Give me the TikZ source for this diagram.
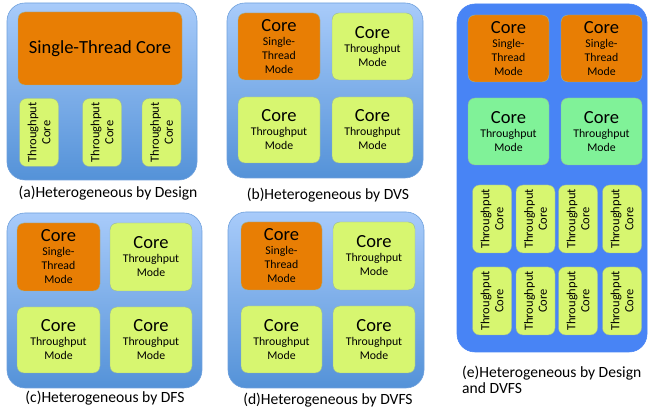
\documentclass[tikz,border=0pt]{standalone}
\usepackage{fontspec}
\setmainfont{Carlito}
\usetikzlibrary{positioning}

\definecolor{chiptop}{RGB}{168,203,250}
\definecolor{chipbot}{RGB}{84,146,216}
\definecolor{chipline}{RGB}{110,160,220}
\definecolor{bigchip}{RGB}{72,132,245}
\definecolor{stcolor}{RGB}{232,126,4}
\definecolor{tpcolor}{RGB}{215,246,112}
\definecolor{modecolor}{RGB}{128,242,152}
\definecolor{coreline}{RGB}{150,180,160}

\begin{document}
\begin{tikzpicture}[
            x=1pt, y=-1pt,
            chip/.style={draw=chipline, line width=0.6pt, rounded corners=18pt,
                top color=chiptop, bottom color=chipbot, inner sep=0pt, outer sep=0pt},
            core/.style={draw=coreline, line width=0.4pt, rounded corners=7pt,
                inner sep=0pt, outer sep=0pt, align=center, font=\smallword},
            stcore/.style={core, fill=stcolor},
            tpcore/.style={core, fill=tpcolor},
            tpmode/.style={core, fill=modecolor},
            vcore/.style={tpcore, rotate=90, font=\vword, minimum width=68pt, minimum height=39pt},
            caption/.style={font=\capword, inner sep=0pt}
        ]
        \def\bigword{\fontsize{18.5}{19}\selectfont}
        \def\smallword{\fontsize{11.8}{14}\selectfont}
        \def\vword{\fontsize{12.5}{14}\selectfont}
        \def\capword{\fontsize{15.6}{16}\selectfont}
        \def\stmode{{\bigword Core}\\Single-\\Thread\\Mode}
        \def\tpmodetext{{\bigword Core}\\Throughput\\Mode}
        \def\vtext{Throughput\\Core}
        \useasboundingbox (0, 0) rectangle (649, 411);

        % (a) heterogeneous by design
        \node[chip, minimum width=190pt, minimum height=177pt] (chipA) at (102, 91.5) {};
        \node[stcore, minimum width=164pt, minimum height=73pt] (stA) at (100, 48.5)
            {\fontsize{18.5}{20}\selectfont Single-Thread Core};
        \node[vcore] (tpA1) at (39, 132.5) {\vtext};
        \node[vcore] (tpA2) at (102, 132.5) {\vtext};
        \node[vcore] (tpA3) at (161.5, 132.5) {\vtext};
        \node[caption] (capA) at (108, 193) {(a)Heterogeneous by Design};

        % (b) heterogeneous by DVS
        \node[chip, minimum width=196pt, minimum height=175pt] (chipB) at (325, 90.5) {};
        \node[stcore, minimum width=82pt, minimum height=67pt] (coreB1) at (279, 46.5) {\stmode};
        \node[tpcore, minimum width=81pt, minimum height=67pt] (coreB2) at (372.5, 46.5) {\tpmodetext};
        \node[tpcore, minimum width=82pt, minimum height=66pt] (coreB3) at (279, 130) {\tpmodetext};
        \node[tpcore, minimum width=81pt, minimum height=66pt] (coreB4) at (372.5, 130) {\tpmodetext};
        \node[caption] (capB) at (328, 195) {(b)Heterogeneous by DVS};

        % (c) heterogeneous by DFS
        \node[chip, minimum width=195pt, minimum height=175pt] (chipC) at (104.5, 300.5) {};
        \node[stcore, minimum width=83pt, minimum height=68pt] (coreC1) at (58.5, 257) {\stmode};
        \node[tpcore, minimum width=82pt, minimum height=68pt] (coreC2) at (151, 257) {\tpmodetext};
        \node[tpcore, minimum width=83pt, minimum height=66pt] (coreC3) at (58.5, 340) {\tpmodetext};
        \node[tpcore, minimum width=82pt, minimum height=66pt] (coreC4) at (151, 340) {\tpmodetext};
        \node[caption] (capC) at (105, 398) {(c)Heterogeneous by DFS};

        % (d) heterogeneous by DVFS
        \node[chip, minimum width=196pt, minimum height=176pt] (chipD) at (326, 300) {};
        \node[stcore, minimum width=81pt, minimum height=68pt] (coreD1) at (281.5, 256) {\stmode};
        \node[tpcore, minimum width=82pt, minimum height=68pt] (coreD2) at (374, 256) {\tpmodetext};
        \node[tpcore, minimum width=81pt, minimum height=67pt] (coreD3) at (281.5, 339.5) {\tpmodetext};
        \node[tpcore, minimum width=82pt, minimum height=67pt] (coreD4) at (374, 339.5) {\tpmodetext};
        \node[caption] (capD) at (328, 400) {(d)Heterogeneous by DVFS};

        % (e) heterogeneous by design and DVFS
        \node[chip, top color=bigchip, bottom color=bigchip, draw=bigchip,
            minimum width=190pt, minimum height=348pt] (chipE) at (552, 178) {};
        \node[stcore, minimum width=81pt, minimum height=67pt] (coreE1) at (508.5, 48.5) {\stmode};
        \node[stcore, minimum width=81pt, minimum height=67pt] (coreE2) at (601.5, 48.5) {\stmode};
        \node[tpmode, minimum width=81pt, minimum height=67pt] (coreE3) at (508.5, 131.5) {\tpmodetext};
        \node[tpmode, minimum width=81pt, minimum height=67pt] (coreE4) at (601.5, 131.5) {\tpmodetext};
        \foreach \x [count=\i] in {492, 535.5, 578, 622} {
            \node[vcore] (tpE\i) at (\x, 219) {\vtext};
            \node[vcore] (tpF\i) at (\x, 301) {\vtext};
        }
        \node[caption, anchor=west, align=left] (capE) at (462, 379.5)
            {(e)Heterogeneous by Design\\and DVFS};
    \end{tikzpicture}
\end{document}
